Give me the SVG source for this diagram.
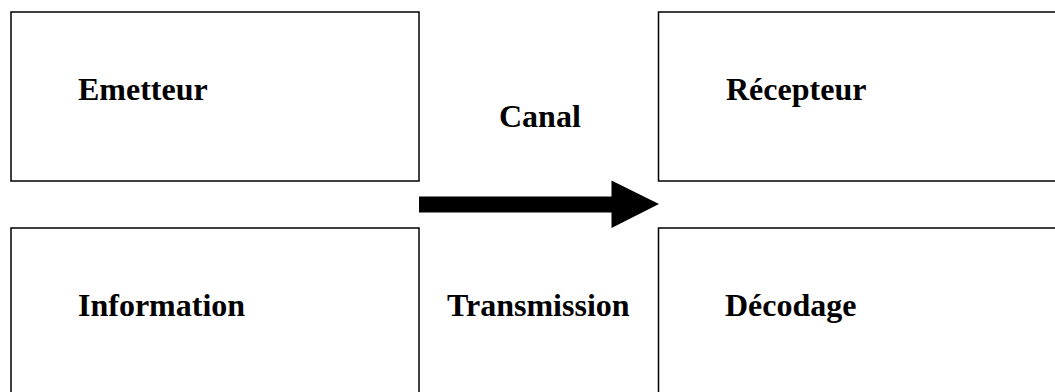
<svg xmlns="http://www.w3.org/2000/svg" width="1055" height="392" viewBox="0 0 1055 392">
<style>
.box{fill:#fff;stroke:#000;stroke-width:1.5}
.lbl{font-family:"Liberation Serif","Times New Roman",serif;font-weight:bold;font-size:32px;fill:#000}
</style>
<rect width="1055" height="392" fill="#fff"/>
<g id="emetteur"><rect class="box" x="11" y="12" width="408" height="169"/><text class="lbl" x="78" y="100">Emetteur</text></g>
<g id="recepteur"><rect class="box" x="658.5" y="12" width="420" height="169"/><text class="lbl" x="726" y="100">Récepteur</text></g>
<g id="information"><rect class="box" x="11" y="228" width="408" height="190"/><text class="lbl" x="78" y="316">Information</text></g>
<g id="decodage"><rect class="box" x="658.5" y="228" width="420" height="190"/><text class="lbl" x="725" y="316">Décodage</text></g>
<g id="canal"><text class="lbl" x="499" y="127">Canal</text></g>
<g id="transmission"><text class="lbl" x="447" y="316">Transmission</text></g>
<g id="connectors"><path d="M419 196.5 H611.5 V180.5 L659 204 L611.5 228 V212.5 H419 Z" fill="#000"/></g>
</svg>
